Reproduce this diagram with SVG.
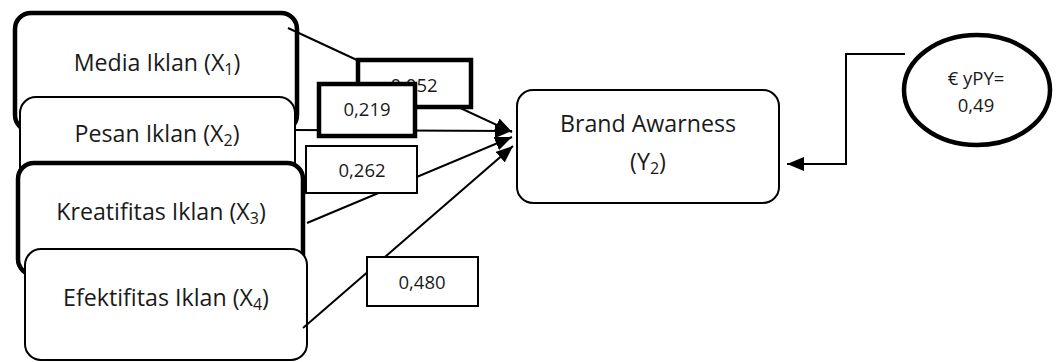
<svg xmlns="http://www.w3.org/2000/svg" width="1056" height="362" viewBox="0 0 1056 362">
  <defs>
    <marker id="arrow" markerUnits="userSpaceOnUse" markerWidth="18" markerHeight="14" refX="17" refY="7" orient="auto">
      <path d="M0,0 L17,7 L0,14 Z" fill="#000"/>
    </marker>
  </defs>
  <style>
    .box { fill: #fff; stroke: #000; stroke-width: 2; }
    .box-bold { fill: #fff; stroke: #000; stroke-width: 4.5; }
    .lbl { font-family: "Open Sans", "Liberation Sans", sans-serif; font-size: 23.2px; fill: #1a1a1a; text-anchor: middle; }
    .num { font-family: "Open Sans", "Liberation Sans", sans-serif; font-size: 18.5px; fill: #1a1a1a; text-anchor: middle; }
    .sub { font-size: 16px; }
    .wire { fill: none; stroke: #000; stroke-width: 2; }
  </style>

  <!-- source variables -->
  <g id="x1">
    <rect class="box-bold" x="15" y="13" width="282" height="118" rx="16"/>
    <text class="lbl" x="157" y="71">Media Iklan (X<tspan class="sub" dy="4">1</tspan><tspan dy="-4">)</tspan></text>
  </g>
  <g id="x2">
    <rect class="box" x="20" y="97" width="275" height="100" rx="16"/>
    <text class="lbl" x="157" y="142">Pesan Iklan (X<tspan class="sub" dy="4">2</tspan><tspan dy="-4">)</tspan></text>
  </g>
  <g id="x3">
    <rect class="box-bold" x="18" y="163" width="285" height="112" rx="16"/>
    <text class="lbl" x="161" y="220">Kreatifitas Iklan (X<tspan class="sub" dy="4">3</tspan><tspan dy="-4">)</tspan></text>
  </g>
  <g id="x4">
    <rect class="box" x="25" y="249" width="282" height="111" rx="16"/>
    <text class="lbl" x="166" y="306">Efektifitas Iklan (X<tspan class="sub" dy="4">4</tspan><tspan dy="-4">)</tspan></text>
  </g>

  <!-- dependent variable -->
  <g id="y2">
    <rect class="box" x="517" y="90" width="262" height="113" rx="16"/>
    <text class="lbl" x="648" y="132">Brand Awarness</text>
    <text class="lbl" x="648" y="170">(Y<tspan class="sub" dy="4">2</tspan><tspan dy="-4">)</tspan></text>
  </g>

  <!-- residual -->
  <g id="residual">
    <ellipse cx="977" cy="90" rx="73" ry="55" fill="#fff" stroke="#000" stroke-width="4.5"/>
    <text class="num" x="976" y="85">€ yPY=</text>
    <text class="num" x="976" y="112">0,49</text>
  </g>

  <!-- paths -->
  <g id="connectors">
    <line class="wire" x1="288" y1="28" x2="512" y2="132" marker-end="url(#arrow)"/>
    <line class="wire" x1="295" y1="130" x2="512" y2="131" marker-end="url(#arrow)"/>
    <line class="wire" x1="307" y1="223" x2="512" y2="137" marker-end="url(#arrow)"/>
    <line class="wire" x1="303" y1="328" x2="513" y2="146" marker-end="url(#arrow)"/>
    <polyline class="wire" points="905,54 846,54 846,164 787,164" marker-end="url(#arrow)"/>
  </g>

  <!-- path coefficients -->
  <g id="coef-x1">
    <rect class="box-bold" x="358" y="60" width="113" height="47"/>
    <text class="num" x="414" y="92">0,052</text>
  </g>
  <g id="coef-x2">
    <rect class="box-bold" x="319" y="84" width="96" height="52"/>
    <text class="num" x="367" y="116">0,219</text>
  </g>
  <g id="coef-x3">
    <rect class="box" x="306" y="146" width="111" height="47"/>
    <text class="num" x="362" y="177">0,262</text>
  </g>
  <g id="coef-x4">
    <rect class="box" x="367" y="257" width="111" height="49"/>
    <text class="num" x="422" y="289">0,480</text>
  </g>
</svg>
